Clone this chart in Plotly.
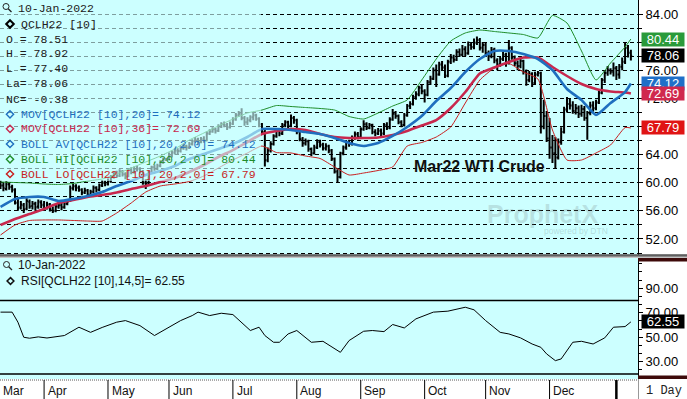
import plotly.graph_objects as go
import pandas as pd

W, H = 687, 399
MONO = "Liberation Mono, Courier New, monospace"
SANS = "Liberation Sans, Arial, sans-serif"

# ---------------- data ----------------
dates = pd.bdate_range("2021-03-11", "2022-01-10")
bar_idx = list(range(len(dates)))

opens = [
    59.9, 59.6, 59.1, 59.8, 59.4, 59.0, 57.1, 56.5, 56.8, 56.3, 57.3, 56.7, 57.0, 56.6, 57.2,
    56.9, 56.4, 56.9, 56.2, 56.0, 56.6, 56.8, 56.5, 57.0, 57.4, 59.2, 59.5, 59.3, 59.0, 58.6, 58.9, 58.3, 58.7, 59.3, 59.0, 59.6, 60.0,
    59.9, 60.2, 60.8, 61.3, 61.0, 61.6, 61.2, 60.9, 61.8, 61.5, 61.9, 62.0, 61.6, 60.0, 59.9, 61.5, 62.2, 62.0, 62.4, 62.9, 63.3,
    63.4, 63.9, 64.3, 64.6, 64.5, 64.9, 65.2, 65.0, 65.5, 65.9, 66.1, 65.8, 66.2, 66.0, 67.0, 67.3, 67.6, 67.4, 68.0, 68.3, 68.2, 67.9,
    68.4, 69.0, 69.6, 69.8, 69.2, 68.6, 68.9, 69.3, 69.6, 69.1, 68.3, 67.2, 63.2, 64.6, 65.5, 66.6, 67.4, 67.0, 68.2, 68.6, 68.1, 69.2,
    68.9, 67.3, 66.2, 65.6, 65.9, 64.8, 64.2, 65.0, 65.8, 65.4, 64.9, 65.2, 64.6, 63.4, 61.6, 60.8, 64.2, 65.0, 65.8, 65.5, 66.4, 66.9,
    66.5, 67.6, 68.3, 67.8, 68.2, 67.2, 67.0, 67.4, 67.0, 68.2, 67.8, 69.0, 69.8, 69.5, 68.6, 68.2, 69.6, 70.9, 71.2, 72.2, 72.6, 73.5,
    73.0, 72.5, 74.3, 74.8, 76.0, 75.4, 76.8, 76.4, 75.2, 77.2, 77.8, 77.5, 78.6, 78.2, 79.0, 78.4, 79.6, 79.3, 79.9, 80.3, 79.2,
    79.6, 78.4, 78.0, 78.9, 77.4, 76.8, 77.6, 78.2, 77.0, 79.2, 77.8, 77.0, 76.6, 77.3, 75.8, 74.6, 75.5, 74.2, 75.4, 75.6, 68.0, 69.5,
    66.3, 65.0, 64.2, 63.6, 65.8, 67.2, 70.4, 71.2, 71.0, 70.2, 70.6, 69.8, 70.5, 69.2, 69.9, 71.0, 70.6, 71.4, 72.8, 74.6, 75.6, 76.0, 75.8,
    76.3, 75.4, 76.5, 77.2, 79.2, 78.51,
]
highs = [
    60.3, 60.0, 60.2, 60.1, 59.7, 59.2, 57.9, 57.4, 57.1, 57.8, 57.6, 57.4, 57.3, 57.6, 57.5,
    57.4, 57.3, 57.1, 56.6, 56.9, 57.2, 57.1, 57.3, 57.6, 59.6, 59.9, 59.8, 59.6, 59.2, 59.3, 59.1, 59.0, 59.6, 59.5, 59.9, 60.4, 60.3,
    60.6, 61.1, 61.6, 61.7, 61.9, 61.8, 61.5, 62.1, 62.2, 62.3, 62.4, 62.2, 61.8, 60.5, 61.7, 62.4, 62.6, 62.7, 63.2, 63.6, 63.5,
    64.3, 64.6, 64.9, 64.9, 65.2, 65.5, 65.4, 65.8, 66.2, 66.5, 66.4, 66.5, 66.6, 67.3, 67.6, 67.9, 67.8, 68.3, 68.6, 68.7, 68.5, 68.7,
    69.3, 69.9, 70.2, 70.6, 69.5, 69.3, 69.6, 69.9, 69.8, 69.3, 68.5, 67.8, 65.0, 65.9, 66.9, 67.8, 67.7, 68.5, 68.9, 68.8, 69.7, 69.5,
    69.1, 67.6, 66.5, 66.3, 66.1, 65.0, 65.4, 66.2, 66.1, 65.7, 65.6, 65.4, 64.8, 63.6, 61.9, 64.4, 65.3, 66.0, 66.1, 66.7, 67.3, 67.2,
    67.9, 68.9, 68.6, 68.5, 68.4, 67.6, 67.8, 67.7, 68.5, 68.6, 69.3, 70.5, 70.2, 69.7, 68.9, 69.9, 71.2, 71.6, 72.5, 73.0, 73.8, 73.9,
    73.3, 74.6, 75.2, 76.4, 76.8, 77.2, 77.3, 76.8, 77.5, 78.3, 78.2, 79.0, 79.1, 79.6, 79.4, 80.1, 80.0, 80.5, 80.8, 80.6, 80.0,
    79.9, 78.8, 79.3, 79.2, 77.7, 77.9, 78.6, 78.5, 80.3, 79.4, 78.1, 77.4, 77.8, 77.5, 76.1, 75.9, 75.7, 75.8, 75.9, 75.8, 71.8, 70.2,
    69.2, 66.8, 66.5, 66.3, 67.9, 70.8, 72.2, 72.0, 71.6, 71.2, 71.0, 71.1, 70.9, 70.2, 71.5, 71.6, 71.8, 73.1, 74.9, 76.0, 76.6, 76.3, 77.1,
    76.6, 76.9, 77.8, 79.9, 79.6, 78.92,
]
lows = [
    59.1, 58.8, 58.9, 59.0, 58.6, 56.9, 56.0, 56.2, 55.7, 56.1, 56.3, 56.2, 56.0, 56.3, 56.4,
    56.0, 56.2, 55.9, 55.7, 55.8, 56.3, 56.1, 56.3, 56.8, 57.3, 58.9, 58.8, 58.7, 58.2, 58.4, 57.9, 58.1, 58.5, 58.6, 58.8, 59.4, 59.5,
    59.6, 60.0, 60.6, 60.7, 60.8, 60.9, 60.5, 60.8, 61.2, 61.3, 61.6, 61.3, 59.7, 59.1, 59.7, 61.3, 61.7, 61.8, 62.2, 62.7, 63.1,
    63.2, 63.6, 64.0, 64.1, 64.3, 64.7, 64.6, 64.8, 65.3, 65.7, 65.4, 65.6, 65.7, 65.9, 66.8, 67.1, 67.0, 67.2, 67.8, 67.9, 67.5, 67.7,
    68.2, 68.8, 69.4, 68.9, 68.1, 68.2, 68.6, 68.9, 68.8, 67.9, 66.9, 62.3, 62.9, 64.3, 65.3, 66.4, 66.6, 66.8, 67.9, 67.8, 67.9, 68.4,
    66.9, 65.9, 65.1, 65.3, 64.4, 63.8, 64.0, 64.8, 65.0, 64.6, 64.6, 64.2, 63.1, 61.3, 60.1, 60.6, 63.9, 64.7, 65.1, 65.3, 66.1, 66.2,
    66.3, 67.4, 67.5, 67.6, 66.9, 66.6, 66.8, 66.6, 66.8, 67.5, 67.6, 68.8, 69.1, 68.3, 67.9, 68.0, 69.4, 70.5, 71.0, 71.8, 72.3, 72.6,
    71.4, 72.3, 73.9, 74.6, 73.6, 75.2, 76.0, 74.9, 75.0, 76.9, 77.1, 77.3, 77.9, 78.0, 78.0, 78.2, 78.9, 79.0, 79.6, 78.8, 78.5,
    78.0, 77.3, 77.7, 77.0, 76.0, 76.5, 77.3, 76.5, 76.8, 77.5, 76.6, 76.0, 76.3, 75.4, 73.8, 74.3, 73.6, 74.0, 75.1, 67.0, 67.6, 65.8,
    63.4, 62.8, 62.1, 63.3, 65.4, 67.0, 70.0, 70.4, 69.8, 69.7, 69.2, 69.4, 68.8, 66.1, 69.6, 70.1, 70.3, 71.2, 72.6, 74.2, 75.2, 75.4, 75.1,
    74.6, 74.8, 76.0, 76.9, 77.8, 77.40,
]
closes = [
    59.6, 59.2, 59.8, 59.4, 59.0, 57.2, 56.4, 56.9, 56.2, 57.4, 56.6, 57.0, 56.5, 57.3, 56.8,
    56.4, 56.9, 56.2, 56.0, 56.6, 56.8, 56.5, 57.0, 57.3, 59.2, 59.5, 59.3, 59.0, 58.6, 58.9, 58.3, 58.7, 59.3, 59.0, 59.6, 60.0, 59.8,
    60.2, 60.8, 61.3, 61.0, 61.6, 61.2, 60.9, 61.8, 61.5, 61.9, 62.0, 61.6, 60.0, 59.9, 61.5, 62.2, 62.0, 62.4, 62.9, 63.3, 63.3,
    63.9, 64.3, 64.6, 64.5, 64.9, 65.2, 65.0, 65.5, 65.9, 66.1, 65.8, 66.2, 66.0, 67.0, 67.3, 67.6, 67.4, 68.0, 68.3, 68.2, 67.9, 68.4,
    69.0, 69.6, 69.8, 69.2, 68.6, 68.9, 69.3, 69.6, 69.1, 68.3, 67.2, 63.2, 64.6, 65.5, 66.6, 67.4, 67.0, 68.2, 68.6, 68.1, 69.2, 68.9,
    67.3, 66.2, 65.6, 65.9, 64.8, 64.2, 65.0, 65.8, 65.4, 64.9, 65.2, 64.6, 63.4, 61.6, 60.8, 64.2, 65.0, 65.8, 65.5, 66.4, 66.9, 66.5,
    67.6, 68.3, 67.8, 68.2, 67.2, 67.0, 67.4, 67.0, 68.2, 67.8, 69.0, 69.8, 69.5, 68.6, 68.2, 69.6, 70.9, 71.2, 72.2, 72.6, 73.5, 73.0,
    72.5, 74.3, 74.8, 76.0, 75.4, 76.8, 76.4, 75.2, 77.2, 77.8, 77.5, 78.6, 78.2, 79.0, 78.4, 79.6, 79.3, 79.9, 80.3, 79.2, 79.6,
    78.4, 78.0, 78.9, 77.4, 76.8, 77.6, 78.2, 77.0, 79.2, 77.8, 77.0, 76.6, 77.3, 75.8, 74.6, 75.5, 74.2, 75.4, 75.6, 68.0, 69.5, 66.3,
    65.0, 64.2, 63.6, 65.8, 67.2, 70.4, 71.2, 71.0, 70.2, 70.6, 69.8, 70.5, 69.2, 69.9, 71.0, 70.6, 71.4, 72.8, 74.6, 75.6, 76.0, 75.8, 76.3,
    75.4, 76.5, 77.2, 79.2, 78.44, 78.06,
]
for arr in (opens, highs, lows, closes):
    assert len(arr) == len(dates), len(arr)

# indicator lines (read every 5 bars)
ind_idx = [0, 5, 10, 15, 20, 25, 30, 35, 40, 45, 50, 55, 60, 65, 70, 75, 80, 85, 90, 95, 100,
           105, 110, 115, 120, 125, 130, 135, 140, 145, 150, 155, 160, 165, 170, 175, 180, 185,
           190, 195, 200, 205, 210, 215, 217]
mov20 = [56.55, 57.68, 57.97, 57.97, 57.4, 57.68, 58.11, 58.68, 59.53, 60.24, 61.1, 61.67, 62.38,
         63.37, 64.09, 64.8, 65.51, 66.5, 67.64, 67.64, 67.5, 67.21, 66.93, 66.36, 65.65, 65.22,
         65.65, 66.65, 67.93, 69.49, 71.62, 73.47, 75.75, 77.6, 78.74, 78.74, 78.31, 77.6, 76.03,
         73.33, 71.77, 69.63, 71.34, 72.9, 74.12]
mov36 = [53.99, 54.84, 55.55, 56.26, 57.12, 57.54, 57.97, 58.25, 58.61, 59.11, 59.53, 60.1, 60.67,
         61.52, 62.52, 63.66, 64.65, 65.79, 66.93, 67.36, 67.64, 67.5, 66.93, 66.5, 66.36, 66.36,
         66.43, 66.79, 67.36, 68.14, 68.92, 70.63, 72.9, 75.54, 76.39, 77.17, 77.81, 77.81, 76.46,
         75.18, 74.04, 73.33, 72.98, 72.83, 72.69]
boll_hi = [60.1, 60.03, 59.96, 59.82, 59.75, 59.89, 60.24, 60.53, 61.24, 62.09, 62.95, 63.8, 64.8,
           66.08, 67.07, 68.07, 69.06, 69.92, 70.34, 70.98, 70.84, 70.7, 70.56, 70.34, 69.42, 69.06,
           69.92, 70.91, 71.77, 74.61, 77.6, 80.16, 81.3, 81.72, 81.51, 81.3, 81.08, 80.59, 83.79,
           82.72, 78.74, 74.61, 77.03, 79.31, 80.44]
boll_lo = [52.56, 53.99, 54.63, 54.7, 54.7, 54.63, 54.55, 54.55, 55.69, 57.12, 58.68, 59.53, 59.82,
           60.17, 60.96, 62.09, 63.23, 64.23, 65.22, 64.3, 64.23, 63.8, 63.45, 62.24, 61.1, 61.38,
           61.74, 62.24, 65.22, 65.72, 66.5, 67.93, 71.34, 74.61, 76.32, 76.96, 75.75, 74.75, 67.5,
           63.23, 63.23, 64.23, 65.37, 67.85, 67.79]

rsi_idx = [0, 4, 6, 8, 10, 13, 16, 19, 22, 27, 31, 35, 40, 43, 48, 53, 57, 62, 66, 68, 72, 76, 80,
           83, 86, 89, 91, 94, 96, 99, 102, 107, 111, 117, 120, 125, 128, 132, 135, 139, 143, 149,
           154, 160, 163, 167, 172, 175, 179, 183, 186, 188, 191, 193, 197, 200, 204, 208, 211, 215, 217]
rsi_val = [70.5, 70.5, 62.3, 50.0, 49.2, 50.3, 49.4, 50.2, 51.4, 58.2, 54.0, 58.0, 62.3, 63.6, 59.5,
           51.4, 56.8, 63.6, 67.7, 70.5, 67.7, 69.6, 68.5, 62.3, 55.5, 58.2, 51.4, 45.9, 45.9, 52.7,
           55.5, 45.9, 46.7, 37.7, 47.3, 54.9, 55.5, 54.6, 60.4, 57.6, 65.0, 70.5, 71.3, 74.5, 72.4,
           63.6, 54.0, 52.7, 49.5, 44.5, 41.8, 36.4, 30.9, 32.3, 45.9, 46.7, 44.5, 49.5, 58.2, 58.7, 62.55]

month_labels = ["Mar", "Apr", "May", "Jun", "Jul", "Aug", "Sep", "Oct", "Nov", "Dec"]
price_ticks = [52, 56, 60, 64, 72, 76, 84]
rsi_ticks = [30, 50, 70, 90]
rsi_levels = [80, 20]

# ---------------- geometry (pixels) ----------------
PLOT_R = 638
MAIN_TOP, MAIN_BOT = 0, 254.5
RSI_TOP, RSI_BOT = 258, 379
X0_PX, BAR_PX = 0.5, 2.905


def px2idx(x):
    return (x - X0_PX) / BAR_PX


def fx(x):
    return x / W


def fy(y):
    return 1 - y / H


x_range = [px2idx(0), px2idx(PLOT_R)]
P_REF, P_REF_Y, P_SCALE = 84, 14, 7.03
main_range = [P_REF - (MAIN_BOT - P_REF_Y) / P_SCALE, P_REF + (P_REF_Y - MAIN_TOP) / P_SCALE]
R_REF, R_REF_Y, R_SCALE = 80, 300.5, 1.225
rsi_range = [R_REF - (RSI_BOT - R_REF_Y) / R_SCALE, R_REF + (R_REF_Y - RSI_TOP) / R_SCALE]

C_BLUE = "#1f6fbf"
C_CRIM = "#c8284e"
C_GREEN = "#1e8c28"
C_RED = "#c81e1e"

fig = go.Figure()
fig.add_trace(go.Ohlc(
    x=bar_idx, open=opens, high=highs, low=lows, close=closes,
    increasing=dict(line=dict(color="black", width=2)),
    decreasing=dict(line=dict(color="black", width=2)),
    tickwidth=0.45, xaxis="x", yaxis="y", hoverinfo="skip"))
for vals, col, wd in [(boll_lo, C_RED, 1), (boll_hi, C_GREEN, 1), (mov36, C_CRIM, 2.6), (mov20, C_BLUE, 2.6)]:
    fig.add_trace(go.Scatter(x=ind_idx, y=vals, mode="lines", xaxis="x", yaxis="y",
                             line=dict(color=col, width=wd, shape="spline", smoothing=0.5),
                             hoverinfo="skip"))
fig.add_trace(go.Scatter(x=rsi_idx, y=rsi_val, mode="lines", xaxis="x2", yaxis="y2",
                         line=dict(color="black", width=1), hoverinfo="skip"))

# ---------------- shapes ----------------
shapes = []
shapes.append(dict(type="rect", xref="paper", yref="paper", x0=0, x1=1, y0=fy(257.5), y1=fy(254.5),
                   fillcolor="#8c8c8c", line=dict(width=0), layer="above"))
shapes.append(dict(type="line", xref="paper", yref="paper", x0=0, x1=1, y0=fy(255), y1=fy(255),
                   line=dict(color="#333", width=1), layer="above"))
for y0, y1 in [(258, 261.5), (375.5, 379)]:
    shapes.append(dict(type="rect", xref="paper", yref="paper", x0=fx(PLOT_R), x1=1, y0=fy(y1), y1=fy(y0),
                       fillcolor="#3e0a0a", line=dict(width=0), layer="above"))
for lv in rsi_levels:
    shapes.append(dict(type="line", xref="paper", yref="y2", x0=0, x1=fx(PLOT_R), y0=lv, y1=lv,
                       line=dict(color="black", width=1.5)))
shapes.append(dict(type="line", xref="paper", yref="paper", x0=0, x1=fx(PLOT_R), y0=fy(380), y1=fy(380),
                   line=dict(color="#555", width=1, dash="1px,1px")))
shapes.append(dict(type="line", xref="paper", yref="paper", x0=fx(PLOT_R + 0.5), x1=fx(PLOT_R + 0.5),
                   y0=0, y1=fy(379), line=dict(color="#999", width=1)))
month_pos = [i for i in range(1, len(dates)) if dates[i].month != dates[i - 1].month]
for k, mp in enumerate(month_pos):
    last_sep = (k == len(month_pos) - 1)
    shapes.append(dict(type="line", xref="x", yref="paper", x0=mp, x1=mp, y0=0, y1=fy(380),
                       line=dict(color="black", width=2.5 if last_sep else 1)))
# faded legend overlay
shapes.append(dict(type="rect", xref="paper", yref="paper", x0=0, x1=fx(261), y0=fy(181), y1=1,
                   fillcolor="rgba(204,255,255,0.62)", line=dict(width=0), layer="above"))


def magnifier(cx, cy):
    return [dict(type="circle", xref="paper", yref="paper", x0=fx(cx - 3), x1=fx(cx + 3),
                 y0=fy(cy + 3), y1=fy(cy - 3), line=dict(color="#222", width=1), layer="above"),
            dict(type="line", xref="paper", yref="paper", x0=fx(cx + 2.2), x1=fx(cx + 5.5),
                 y0=fy(cy + 2.2), y1=fy(cy + 5.5), line=dict(color="#222", width=1.3), layer="above")]


def diamond(cx, cy, col, r=3.6, wd=1.4):
    path = (f"M {fx(cx)},{fy(cy - r)} L {fx(cx + r)},{fy(cy)} L {fx(cx)},{fy(cy + r)} "
            f"L {fx(cx - r)},{fy(cy)} Z")
    return dict(type="path", xref="paper", yref="paper", path=path,
                line=dict(color=col, width=wd), layer="above")


shapes += magnifier(6, 6.5)
shapes += magnifier(6.5, 264.5)

# ---------------- annotations ----------------
ann = []


def txt(x, y, s, color="#202020", size=11.5, family=MONO, anchor="left", **kw):
    d = dict(x=fx(x), y=fy(y), xref="paper", yref="paper", text=s, showarrow=False,
             xanchor=anchor, yanchor="middle", font=dict(family=family, size=size, color=color),
             borderpad=0)
    d.update(kw)
    return d


O, Hh, L, La = opens[-1], highs[-1], lows[-1], closes[-1]
NC = closes[-1] - closes[-2]
ann.append(txt(17, 8.3, "10-Jan-2022"))
ann.append(txt(20, 24, "QCLH22 [10]"))
shapes.append(diamond(10, 24, "black", r=3.8, wd=2))
for yy, s in [(39.3, f"O = {O:.2f}"), (53.8, f"H = {Hh:.2f}"), (68.5, f"L = {L:.2f}"),
              (83.5, f"La= {La:.2f}"), (99, f"NC= {NC:.2f}")]:
    ann.append(txt(5, yy, s))
ind_lines = [
    (114.3, f"MOV[QCLH22 [10],20]= {mov20[-1]:.2f}", C_BLUE),
    (128.8, f"MOV[QCLH22 [10],36]= {mov36[-1]:.2f}", C_CRIM),
    (144, f"BOLL AV[QCLH22 [10],20,2.0]= {mov20[-1]:.2f}", C_BLUE),
    (159.3, f"BOLL HI[QCLH22 [10],20,2.0]= {boll_hi[-1]:.2f}", C_GREEN),
    (174, f"BOLL LO[QCLH22 [10],20,2.0]= {boll_lo[-1]:.2f}", C_RED),
]
for yy, s, col in ind_lines:
    ann.append(txt(20, yy, s, color=col))
    shapes.append(diamond(10, yy, col))

ann.append(txt(17, 265, "10-Jan-2022", color="#111", size=12, family=SANS))
ann.append(txt(20, 281, f"RSI[QCLH22 [10],14,5]= {rsi_val[-1]:.2f}", color="#111", size=12, family=SANS))
shapes.append(diamond(10.5, 281, "#111", r=3.4, wd=1.5))

ann.append(txt(413, 166, "<b>Mar22 WTI Crude</b>", color="#111", size=16, family=SANS))
ann.append(txt(486, 214, "<b>ProphetX</b>", color="rgba(120,140,140,0.25)", size=25, family=SANS))
ann.append(txt(543, 231, "powered by DTN", color="rgba(120,140,140,0.3)", size=8.5, family=SANS))

ann.append(txt(1.5, 391, month_labels[0], color="#111", size=12, family=SANS))
for lab, mp in zip(month_labels[1:], month_pos):
    ann.append(dict(x=mp + 0.9, y=fy(391), xref="x", yref="paper", text=lab, showarrow=False,
                    xanchor="left", yanchor="middle", font=dict(family=SANS, size=12, color="#111"),
                    borderpad=0))
ann.append(txt(645, 391, "1 Day", color="#222", size=12, family=MONO))

boxes = [("y", boll_hi[-1], "#2a9a3a"), ("y", closes[-1], "black"), ("y", mov20[-1], "#1f6fc8"),
         ("y", mov36[-1], "#d0284e"), ("y", boll_lo[-1], "#e01414"), ("y2", rsi_val[-1], "black")]
for yr, v, col in boxes:
    ann.append(dict(x=fx(641), y=v, xref="paper", yref=yr, text=f"{v:.2f}", showarrow=False,
                    xanchor="left", yanchor="middle", bgcolor=col, width=42, height=13,
                    font=dict(family=SANS, size=13, color="white"), borderpad=0))

fig.update_layout(
    width=W, height=H, margin=dict(l=0, r=0, t=0, b=0, autoexpand=False),
    paper_bgcolor="white", plot_bgcolor="#ccffff", showlegend=False,
    xaxis=dict(domain=[0, fx(PLOT_R)], range=x_range, visible=False, anchor="y",
               rangeslider=dict(visible=False), fixedrange=True),
    xaxis2=dict(domain=[0, fx(PLOT_R)], range=x_range, visible=False, anchor="y2", matches="x"),
    yaxis=dict(domain=[fy(MAIN_BOT), fy(MAIN_TOP)], range=main_range, side="right", anchor="x",
               tickvals=price_ticks, tickformat=".2f", ticks="outside", ticklen=4, tickcolor="black",
               showline=True, linecolor="black", linewidth=1, zeroline=False, automargin=False,
               showgrid=True, gridcolor="black", gridwidth=1, griddash="4px,3px",
               tickfont=dict(family=SANS, size=13, color="black"),
               minor=dict(dtick=2, tick0=0, showgrid=True, gridcolor="black", griddash="4px,3px",
                          gridwidth=1, ticks="outside", ticklen=3, tickcolor="black")),
    yaxis2=dict(domain=[fy(RSI_BOT), fy(RSI_TOP)], range=rsi_range, side="right", anchor="x2",
                tickvals=rsi_ticks, tickformat=".2f", ticks="outside", ticklen=4, tickcolor="black",
                showline=True, linecolor="black", linewidth=1, zeroline=False, showgrid=False,
                automargin=False,
                tickfont=dict(family=SANS, size=13, color="black"),
                minor=dict(dtick=20 / 3, tick0=30, ticks="outside", ticklen=3, tickcolor="black")),
    shapes=shapes, annotations=ann,
)

fig.write_html(
    "out.html",
    config={"displayModeBar": False, "staticPlot": True},
    post_script="document.body.style.margin='0';document.body.style.padding='0';"
                "document.documentElement.style.margin='0';document.body.style.overflow='hidden';",
)
